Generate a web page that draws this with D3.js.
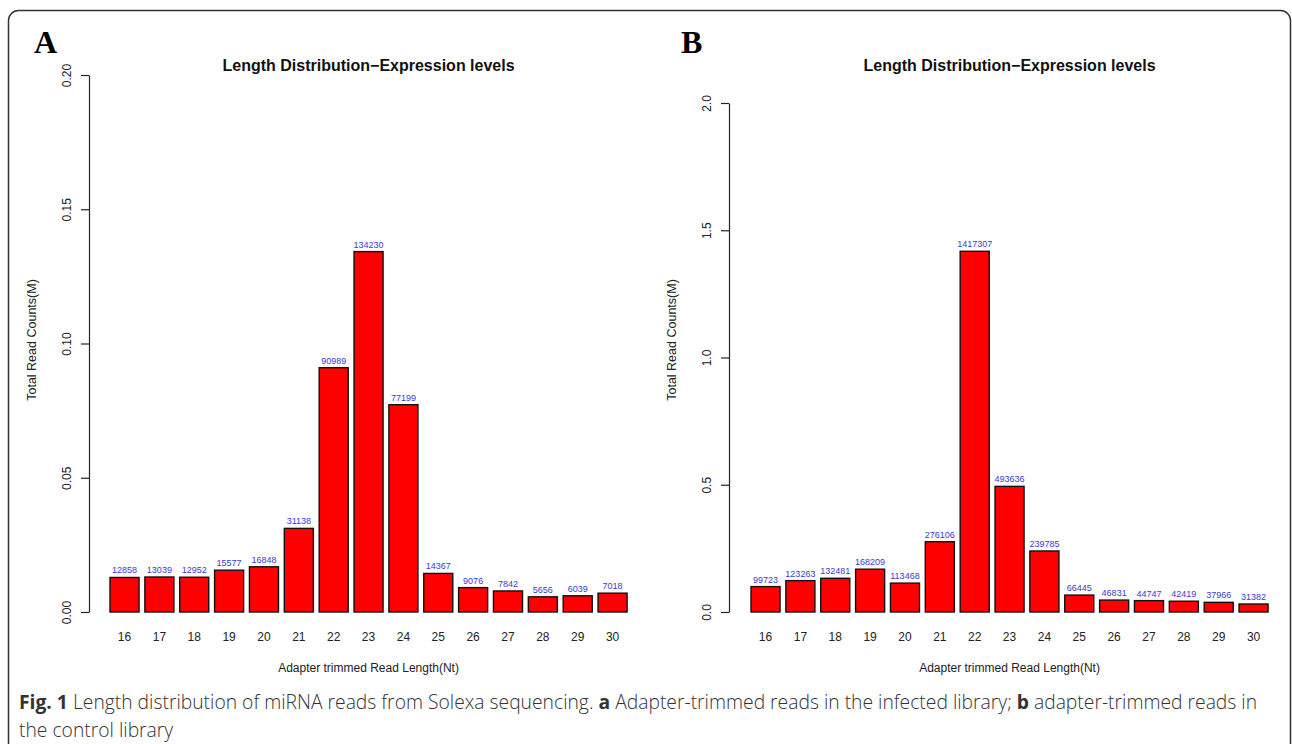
<!DOCTYPE html>
<html lang="en">
<head>
    <meta charset="UTF-8">
    <script src="https://cdn.jsdelivr.net/npm/d3@7"></script>
    <title>Length Distribution</title>
    <style>
        html, body { margin: 0; padding: 0; background: white; }
        svg { display: block; }
        .tick line { stroke: #222; stroke-width: 1.2px; }
        .domain { stroke: #222; stroke-width: 1.2px; }
    </style>
</head>
<body>
    <div id="chart"></div>

    <script>
        // read lengths (nt) and counts
        const lengths = ["16", "17", "18", "19", "20", "21", "22", "23", "24", "25", "26", "27", "28", "29", "30"];
        const countsA = [12858, 13039, 12952, 15577, 16848, 31138, 90989, 134230, 77199, 14367, 9076, 7842, 5656, 6039, 7018];
        const countsB = [99723, 123263, 132481, 168209, 113468, 276106, 1417307, 493636, 239785, 66445, 46831, 44747, 42419, 37966, 31382];
        const ticksA = [0, 0.05, 0.10, 0.15, 0.20];
        const ticksB = [0, 0.5, 1.0, 1.5, 2.0];

        const width = 1292, height = 744;
        const svg = d3.select("#chart").append("svg")
            .attr("width", width)
            .attr("height", height);

        // outer frame, bottom runs off the page
        svg.append("rect")
            .attr("x", 8.5).attr("y", 10.5)
            .attr("width", 1282).attr("height", 800)
            .attr("rx", 10).attr("ry", 10)
            .attr("fill", "none")
            .attr("stroke", "#333")
            .attr("stroke-width", 1.5);

        const panels = [
            { letter: "A", letterX: 34, axisX: 89, left: 107.1, top: 75, ymax: 0.20, ticks: ticksA, fmt: d3.format(".2f"), counts: countsA },
            { letter: "B", letterX: 681, axisX: 729, left: 748.1, top: 103, ymax: 2.0, ticks: ticksB, fmt: d3.format(".1f"), counts: countsB }
        ];
        const base = 612;
        const step = 34.86;

        panels.forEach(p => {
            const g = svg.append("g");
            const x = d3.scaleBand()
                .domain(lengths)
                .range([p.left, p.left + step * lengths.length])
                .paddingInner(1 / 6)
                .paddingOuter(1 / 12);
            const y = d3.scaleLinear()
                .domain([0, p.ymax])
                .range([base, p.top]);
            const midX = (x.range()[0] + x.range()[1]) / 2;

            g.append("text")
                .attr("x", p.letterX)
                .attr("y", 53)
                .style("font-family", "'Liberation Serif', 'DejaVu Serif', serif")
                .style("font-weight", "bold")
                .style("font-size", "32px")
                .text(p.letter);

            g.append("text")
                .attr("x", midX)
                .attr("y", 71)
                .attr("text-anchor", "middle")
                .style("font-family", "'Liberation Sans', Arial, sans-serif")
                .style("font-weight", "bold")
                .style("font-size", "16px")
                .attr("fill", "#111")
                .text("Length Distribution\u2212Expression levels");

            // y axis, labels parallel to the axis like R
            const yAxis = g.append("g")
                .attr("transform", `translate(${p.axisX},0)`)
                .call(d3.axisLeft(y).tickValues(p.ticks).tickFormat(p.fmt).tickSize(8).tickSizeOuter(0));
            yAxis.selectAll(".tick text")
                .attr("transform", "rotate(-90)")
                .attr("x", 0)
                .attr("y", -18)
                .attr("dy", null)
                .attr("text-anchor", "middle")
                .attr("fill", "#222")
                .style("font-family", "'Liberation Sans', Arial, sans-serif")
                .style("font-size", "12px");

            g.append("text")
                .attr("transform", `translate(${p.axisX - 53},340) rotate(-90)`)
                .attr("text-anchor", "middle")
                .style("font-family", "'Liberation Sans', Arial, sans-serif")
                .style("font-size", "12.5px")
                .attr("fill", "#222")
                .text("Total Read Counts(M)");

            const vals = p.counts.map((c, i) => ({ len: lengths[i], count: c }));

            g.selectAll("rect.bar")
                .data(vals)
                .join("rect")
                .attr("class", "bar")
                .attr("x", d => x(d.len))
                .attr("y", d => y(d.count / 1e6))
                .attr("width", x.bandwidth())
                .attr("height", d => base - y(d.count / 1e6))
                .attr("fill", "#ff0000")
                .attr("stroke", "#111")
                .attr("stroke-width", 1.4);

            g.selectAll("text.val")
                .data(vals)
                .join("text")
                .attr("class", "val")
                .attr("x", d => x(d.len) + x.bandwidth() / 2)
                .attr("y", d => y(d.count / 1e6) - 4)
                .attr("text-anchor", "middle")
                .style("font-family", "'Liberation Sans', Arial, sans-serif")
                .style("font-size", "9px")
                .attr("fill", "#3a3ad6")
                .text(d => d.count);

            g.selectAll("text.len")
                .data(lengths)
                .join("text")
                .attr("class", "len")
                .attr("x", d => x(d) + x.bandwidth() / 2)
                .attr("y", 641)
                .attr("text-anchor", "middle")
                .style("font-family", "'Liberation Sans', Arial, sans-serif")
                .style("font-size", "12px")
                .attr("fill", "#222")
                .text(d => d);

            g.append("text")
                .attr("x", midX)
                .attr("y", 672)
                .attr("text-anchor", "middle")
                .style("font-family", "'Liberation Sans', Arial, sans-serif")
                .style("font-size", "12px")
                .attr("fill", "#222")
                .text("Adapter trimmed Read Length(Nt)");
        });

        // figure caption
        const cap = svg.append("text")
            .attr("x", 19)
            .attr("y", 709)
            .style("font-family", "'Open Sans', 'Noto Sans', sans-serif")
            .style("font-size", "19.3px")
            .style("font-weight", 300)
            .attr("fill", "#333");
        cap.append("tspan").style("font-weight", "bold").text("Fig. 1");
        cap.append("tspan").text(" Length distribution of miRNA reads from Solexa sequencing. ");
        cap.append("tspan").style("font-weight", "bold").text("a");
        cap.append("tspan").text(" Adapter-trimmed reads in the infected library; ");
        cap.append("tspan").style("font-weight", "bold").text("b");
        cap.append("tspan").text(" adapter-trimmed reads in");

        svg.append("text")
            .attr("x", 19)
            .attr("y", 737)
            .style("font-family", "'Open Sans', 'Noto Sans', sans-serif")
            .style("font-size", "19.3px")
            .style("font-weight", 300)
            .attr("fill", "#333")
            .text("the control library");
    </script>
</body>
</html>
